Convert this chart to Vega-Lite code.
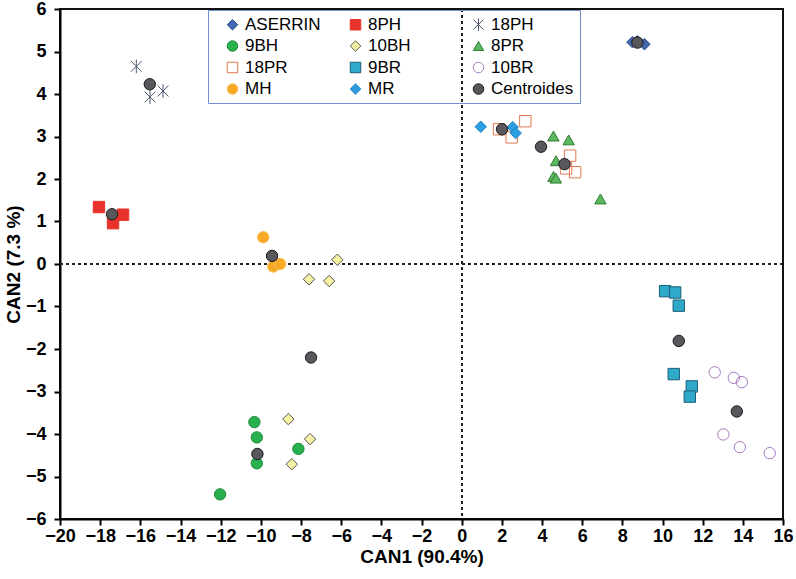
{
  "$schema": "https://vega.github.io/schema/vega-lite/v6.json",
  "width": 723,
  "height": 510,
  "autosize": {"type": "none"},
  "padding": {"left": 60, "top": 9, "right": 13, "bottom": 60},
  "background": "white",
  "config": {
    "view": {"stroke": "#111111", "strokeWidth": 2},
    "font": "Liberation Sans",
    "axis": {
      "domainColor": "black", "domainWidth": 2,
      "tickColor": "black", "tickWidth": 2, "tickSize": 6,
      "labelFont": "Liberation Sans", "labelFontWeight": "bold", "labelFontSize": 18, "labelColor": "black",
      "titleFont": "Liberation Sans", "titleFontWeight": "bold", "titleFontSize": 19, "titleColor": "black",
      "gridColor": "#ececec", "gridWidth": 1,
      "labelFlush": false, "labelOverlap": false
    },
    "legend": {
      "labelFont": "Liberation Sans", "labelFontSize": 17, "labelColor": "black",
      "symbolSize": 110, "symbolStrokeWidth": 1.5
    }
  },
  "data": {"values": [
    {"g": "ASERRIN", "x": 8.5, "y": 5.22}, {"g": "ASERRIN", "x": 8.75, "y": 5.24}, {"g": "ASERRIN", "x": 9.1, "y": 5.17},
    {"g": "8PH", "x": -18.06, "y": 1.34}, {"g": "8PH", "x": -16.86, "y": 1.16}, {"g": "8PH", "x": -17.36, "y": 0.96},
    {"g": "18PH", "x": -16.2, "y": 4.65}, {"g": "18PH", "x": -15.52, "y": 3.93}, {"g": "18PH", "x": -14.87, "y": 4.07},
    {"g": "9BH", "x": -10.32, "y": -3.72}, {"g": "9BH", "x": -10.2, "y": -4.08}, {"g": "9BH", "x": -10.2, "y": -4.69}, {"g": "9BH", "x": -8.13, "y": -4.35}, {"g": "9BH", "x": -12.03, "y": -5.42},
    {"g": "10BH", "x": -6.19, "y": 0.1}, {"g": "10BH", "x": -7.6, "y": -0.36}, {"g": "10BH", "x": -6.6, "y": -0.4}, {"g": "10BH", "x": -8.63, "y": -3.65}, {"g": "10BH", "x": -7.55, "y": -4.12}, {"g": "10BH", "x": -8.46, "y": -4.71},
    {"g": "8PR", "x": 4.57, "y": 3.01}, {"g": "8PR", "x": 5.33, "y": 2.92}, {"g": "8PR", "x": 4.7, "y": 2.43}, {"g": "8PR", "x": 4.57, "y": 2.06}, {"g": "8PR", "x": 4.69, "y": 2.02}, {"g": "8PR", "x": 6.91, "y": 1.53},
    {"g": "18PR", "x": 1.86, "y": 3.17}, {"g": "18PR", "x": 3.17, "y": 3.36}, {"g": "18PR", "x": 2.49, "y": 2.98}, {"g": "18PR", "x": 5.4, "y": 2.55}, {"g": "18PR", "x": 5.2, "y": 2.25}, {"g": "18PR", "x": 5.65, "y": 2.16},
    {"g": "9BR", "x": 10.13, "y": -0.64}, {"g": "9BR", "x": 10.63, "y": -0.67}, {"g": "9BR", "x": 10.81, "y": -0.98}, {"g": "9BR", "x": 10.56, "y": -2.59}, {"g": "9BR", "x": 11.46, "y": -2.88}, {"g": "9BR", "x": 11.36, "y": -3.12},
    {"g": "10BR", "x": 12.6, "y": -2.55}, {"g": "10BR", "x": 13.55, "y": -2.68}, {"g": "10BR", "x": 13.95, "y": -2.78}, {"g": "10BR", "x": 13.03, "y": -4.01}, {"g": "10BR", "x": 13.85, "y": -4.31}, {"g": "10BR", "x": 15.34, "y": -4.45},
    {"g": "MH", "x": -9.88, "y": 0.63}, {"g": "MH", "x": -9.38, "y": -0.06}, {"g": "MH", "x": -9.04, "y": 0.0},
    {"g": "MR", "x": 0.95, "y": 3.23}, {"g": "MR", "x": 2.54, "y": 3.22}, {"g": "MR", "x": 2.69, "y": 3.08},
    {"g": "Centroides", "x": 8.75, "y": 5.21}, {"g": "Centroides", "x": -17.41, "y": 1.17}, {"g": "Centroides", "x": -15.53, "y": 4.23},
    {"g": "Centroides", "x": -10.17, "y": -4.47}, {"g": "Centroides", "x": -7.5, "y": -2.2}, {"g": "Centroides", "x": 5.12, "y": 2.35},
    {"g": "Centroides", "x": 3.95, "y": 2.76}, {"g": "Centroides", "x": 10.81, "y": -1.81}, {"g": "Centroides", "x": 13.7, "y": -3.47},
    {"g": "Centroides", "x": -9.44, "y": 0.19}, {"g": "Centroides", "x": 2.01, "y": 3.17}
  ]},
  "layer": [
    {
      "mark": {"type": "rule", "strokeDash": [3, 3], "color": "#222222", "strokeWidth": 1.2},
      "encoding": {"y": {"datum": 0, "type": "quantitative"}}
    },
    {
      "mark": {"type": "rule", "strokeDash": [3, 3], "color": "#222222", "strokeWidth": 1.2},
      "encoding": {"x": {"datum": 0, "type": "quantitative"}}
    },
    {
      "mark": {"type": "point", "size": 130, "opacity": 1, "strokeWidth": 1.2},
      "encoding": {
        "x": {"field": "x", "type": "quantitative", "title": "CAN1 (90.4%)",
              "scale": {"domain": [-20, 16], "nice": false, "zero": false},
              "axis": {"values": [-20, -18, -16, -14, -12, -10, -8, -6, -4, -2, 0, 2, 4, 6, 8, 10, 12, 14, 16], "labelPadding": 2, "titlePadding": 2}},
        "y": {"field": "y", "type": "quantitative", "title": "CAN2 (7.3 %)",
              "scale": {"domain": [-6, 6], "nice": false},
              "axis": {"values": [-6, -5, -4, -3, -2, -1, 0, 1, 2, 3, 4, 5, 6], "labelPadding": 8, "titlePadding": 2}},
        "shape": {"field": "g", "type": "nominal",
          "scale": {"domain": ["ASERRIN", "8PH", "18PH", "9BH", "10BH", "8PR", "18PR", "9BR", "10BR", "MH", "MR", "Centroides"],
                    "range": ["diamond", "square", "M-0.95,-0.95L0.95,0.95M-0.95,0.95L0.95,-0.95M0,-1.2L0,1.2", "circle", "diamond", "triangle-up", "square", "square", "circle", "circle", "diamond", "circle"]},
          "legend": {"title": null, "orient": "none", "legendX": 148, "legendY": 1, "direction": "horizontal", "columns": 3, "gridAlign": "all", "columnPadding": 9, "rowPadding": 3.5, "strokeColor": "#6f8fcf", "padding": 6, "symbolOffset": 10}},
        "fill": {"field": "g", "type": "nominal",
          "scale": {"domain": ["ASERRIN", "8PH", "18PH", "9BH", "10BH", "8PR", "18PR", "9BR", "10BR", "MH", "MR", "Centroides"],
                    "range": ["#4468b0", "#e8322c", "transparent", "#28b04e", "#f7f1a4", "#5cb860", "transparent", "#2fa9c9", "transparent", "#f8a923", "#2d9ee2", "#58585c"]},
          "legend": {"title": null, "orient": "none", "legendX": 148, "legendY": 1, "direction": "horizontal", "columns": 3, "gridAlign": "all", "columnPadding": 9, "rowPadding": 3.5, "strokeColor": "#6f8fcf", "padding": 6, "symbolOffset": 10}},
        "stroke": {"field": "g", "type": "nominal",
          "scale": {"domain": ["ASERRIN", "8PH", "18PH", "9BH", "10BH", "8PR", "18PR", "9BR", "10BR", "MH", "MR", "Centroides"],
                    "range": ["#2a4a8a", "#e8322c", "#4d5670", "#1f8c3d", "#555555", "#2f7d32", "#e07850", "#1d5e78", "#a47bc0", "#fbbf5a", "#1b82c8", "#1a1a1a"]},
          "legend": {"title": null, "orient": "none", "legendX": 148, "legendY": 1, "direction": "horizontal", "columns": 3, "gridAlign": "all", "columnPadding": 9, "rowPadding": 3.5, "strokeColor": "#6f8fcf", "padding": 6, "symbolOffset": 10}},
        "strokeWidth": {"field": "g", "type": "nominal", "legend": null,
          "scale": {"domain": ["ASERRIN", "8PH", "18PH", "9BH", "10BH", "8PR", "18PR", "9BR", "10BR", "MH", "MR", "Centroides"],
                    "range": [1, 1, 2.6, 1, 1.2, 1.2, 1.5, 1.2, 1.5, 1, 1, 1.5]}}
      }
    }
  ]
}
